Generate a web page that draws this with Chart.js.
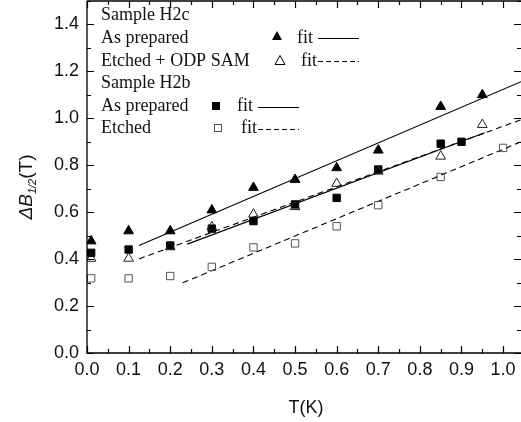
<!DOCTYPE html>
<html>
<head>
<meta charset="utf-8">
<script src="https://cdn.jsdelivr.net/npm/chart.js@4.4.1/dist/chart.umd.min.js"></script>
<style>
  html, body { margin: 0; padding: 0; background: #fff; }
  #wrap { width: 521px; height: 422px; }
</style>
</head>
<body>
<div id="wrap"><canvas id="chart" width="521" height="422"></canvas></div>
<script>
// measured points, T in K, dB1/2 in T
const tH2c = [0.01, 0.1, 0.2, 0.3, 0.4, 0.5, 0.6, 0.7, 0.85, 0.95];
const h2cPrepared = [0.477, 0.52, 0.52, 0.609, 0.705, 0.739, 0.789, 0.864, 1.05, 1.10];
const h2cEtchedOdp = [0.403, 0.403, 0.452, 0.537, 0.591, 0.623, 0.722, 0.774, 0.838, 0.973];
const tH2bPrepared = [0.01, 0.1, 0.2, 0.3, 0.4, 0.5, 0.6, 0.7, 0.85, 0.9];
const h2bPrepared = [0.427, 0.441, 0.458, 0.53, 0.562, 0.633, 0.661, 0.782, 0.892, 0.90];
const tH2bEtched = [0.01, 0.1, 0.2, 0.3, 0.4, 0.5, 0.6, 0.7, 0.85, 1.0];
const h2bEtched = [0.318, 0.318, 0.328, 0.367, 0.45, 0.467, 0.54, 0.63, 0.75, 0.874];

// fit lines (end points)
const fitH2cPreparedT = [0.125, 1.043];
const fitH2cPreparedB = [0.458, 1.156];
const fitH2cEtchedT = [0.125, 1.043];
const fitH2cEtchedB = [0.401, 0.994];
const fitH2bPreparedT = [0.241, 0.956];
const fitH2bPreparedB = [0.464, 0.939];
const fitH2bEtchedT = [0.23, 1.043];
const fitH2bEtchedB = [0.299, 0.90];

const xTicks = [0, 0.1, 0.2, 0.3, 0.4, 0.5, 0.6, 0.7, 0.8, 0.9, 1.0];
const yTicks = [0, 0.2, 0.4, 0.6, 0.8, 1.0, 1.2, 1.4];

const pts = (xs, ys) => xs.map((x, i) => ({ x: x, y: ys[i] }));
const GRAY = '#555';

// frame + inward ticks on all four sides
const framePlugin = {
  id: 'frame',
  afterDraw(chart) {
    const { ctx, chartArea: a, scales } = chart;
    const xs = scales.x, ys = scales.y;
    ctx.save();
    ctx.strokeStyle = '#000';
    ctx.lineWidth = 1.3;
    ctx.beginPath();
    ctx.moveTo(a.left, a.top); ctx.lineTo(a.right + 2, a.top);
    ctx.moveTo(a.left, a.top); ctx.lineTo(a.left, a.bottom);
    ctx.lineTo(a.right + 2, a.bottom);
    ctx.stroke();
    ctx.lineWidth = 1.2;
    ctx.beginPath();
    for (let i = 0; i <= 20; i++) {
      const v = i * 0.05;
      const px = Math.round(xs.getPixelForValue(v)) + 0.5;
      const len = i % 2 === 0 ? 7 : 4;
      ctx.moveTo(px, a.bottom); ctx.lineTo(px, a.bottom - len);
      ctx.moveTo(px, a.top); ctx.lineTo(px, a.top + len);
    }
    for (let i = 0; i <= 15; i++) {
      const v = i * 0.1;
      const py = Math.round(ys.getPixelForValue(v)) + 0.5;
      const len = i % 2 === 0 ? 7 : 4;
      ctx.moveTo(a.left, py); ctx.lineTo(a.left + len, py);
      ctx.moveTo(a.right, py); ctx.lineTo(a.right - len, py);
    }
    ctx.stroke();

    // axis titles
    ctx.fillStyle = '#111';
    ctx.font = '18px "Liberation Sans", Arial, sans-serif';
    ctx.textAlign = 'center';
    ctx.textBaseline = 'alphabetic';
    ctx.fillText('T(K)', 306, 413);

    ctx.translate(32, 187);
    ctx.rotate(-Math.PI / 2);
    const parts = [
      { t: '\u0394', f: 'italic 19px "Liberation Sans", Arial, sans-serif', dy: 0 },
      { t: 'B', f: 'italic 19px "Liberation Sans", Arial, sans-serif', dy: 0 },
      { t: '1/2', f: 'italic 11px "Liberation Sans", Arial, sans-serif', dy: 4 },
      { t: '(T)', f: '19px "Liberation Sans", Arial, sans-serif', dy: 0 }
    ];
    let total = 0;
    parts.forEach(p => { ctx.font = p.f; p.w = ctx.measureText(p.t).width; total += p.w; });
    let cx = -total / 2;
    ctx.textAlign = 'left';
    parts.forEach(p => { ctx.font = p.f; ctx.fillText(p.t, cx, p.dy); cx += p.w; });
    ctx.restore();
  }
};

// the in-plot legend, drawn as text like the original figure
const legendPlugin = {
  id: 'textLegend',
  afterDraw(chart) {
    const ctx = chart.ctx;
    ctx.save();
    ctx.fillStyle = '#111';
    ctx.font = '18px "Liberation Serif", "Times New Roman", serif';
    ctx.textBaseline = 'alphabetic';
    ctx.textAlign = 'left';
    const rows = ['Sample H2c', 'As prepared', 'Etched + ODP SAM', 'Sample H2b', 'As prepared', 'Etched'];
    const base = [20, 43, 66, 88, 111, 133];
    rows.forEach((r, i) => ctx.fillText(r, 101, base[i]));
    ctx.fillText('fit', 297, 43);
    ctx.fillText('fit', 301, 66);
    ctx.fillText('fit', 237, 111);
    ctx.fillText('fit', 241, 133);

    // markers
    ctx.strokeStyle = '#000';
    ctx.lineWidth = 1;
    ctx.beginPath();
    ctx.moveTo(277, 31); ctx.lineTo(282, 40); ctx.lineTo(272, 40); ctx.closePath();
    ctx.fillStyle = '#000'; ctx.fill();
    ctx.beginPath();
    ctx.moveTo(280, 55.5); ctx.lineTo(285, 64.5); ctx.lineTo(275, 64.5); ctx.closePath();
    ctx.stroke();
    ctx.fillRect(212, 102, 8, 8);
    ctx.strokeStyle = GRAY;
    ctx.strokeRect(214.5, 124.5, 7, 7);

    // fit line samples
    ctx.strokeStyle = '#000';
    ctx.beginPath();
    ctx.moveTo(318, 38.5); ctx.lineTo(359, 38.5);
    ctx.moveTo(258, 107.5); ctx.lineTo(299, 107.5);
    ctx.stroke();
    ctx.setLineDash([5, 3]);
    ctx.beginPath();
    ctx.moveTo(318, 61.5); ctx.lineTo(359, 61.5);
    ctx.moveTo(258, 129.5); ctx.lineTo(299, 129.5);
    ctx.stroke();
    ctx.restore();
  }
};

const fitLine = (xs, ys, dashed, color) => ({
  type: 'line',
  data: pts(xs, ys),
  borderColor: color,
  borderWidth: 1.1,
  borderDash: dashed ? [6, 4] : [],
  pointRadius: 0,
  fill: false,
  showLine: true
});

const marker = (xs, ys, style, filled, color) => ({
  type: 'scatter',
  data: pts(xs, ys),
  pointStyle: style,
  pointRadius: style === 'triangle' ? 5.6 : 5.2,
  pointBackgroundColor: filled ? color : 'rgba(0,0,0,0)',
  pointBorderColor: color,
  pointBorderWidth: 1,
  showLine: false
});

// fixed axis boxes, no extra room for end labels
const noPad = s => { s.paddingTop = 0; s.paddingBottom = 0; s.paddingLeft = 0; s.paddingRight = 0; };

new Chart(document.getElementById('chart'), {
  type: 'scatter',
  data: {
    datasets: [
      marker(tH2c, h2cPrepared, 'triangle', true, '#000'),
      marker(tH2c, h2cEtchedOdp, 'triangle', false, '#222'),
      marker(tH2bPrepared, h2bPrepared, 'rect', true, '#000'),
      marker(tH2bEtched, h2bEtched, 'rect', false, GRAY),
      fitLine(fitH2cPreparedT, fitH2cPreparedB, false, '#000'),
      fitLine(fitH2cEtchedT, fitH2cEtchedB, true, '#000'),
      fitLine(fitH2bPreparedT, fitH2bPreparedB, false, '#000'),
      fitLine(fitH2bEtchedT, fitH2bEtchedB, true, '#000')
    ]
  },
  options: {
    responsive: false,
    animation: false,
    events: [],
    layout: { autoPadding: false, padding: { top: 1, right: 0, left: 0, bottom: 0 } },
    plugins: { legend: { display: false }, tooltip: { enabled: false } },
    scales: {
      x: {
        type: 'linear',
        min: 0,
        max: 1.043,
        afterFit: s => { s.height = 69; noPad(s); },
        afterBuildTicks: s => { s.ticks = xTicks.map(v => ({ value: v })); },
        grid: { display: false, drawTicks: false },
        border: { display: false },
        ticks: {
          padding: 6,
          color: '#111',
          font: { family: '"Liberation Sans", Arial, sans-serif', size: 18 },
          callback: v => v.toFixed(1),
          maxRotation: 0,
          autoSkip: false
        }
      },
      y: {
        type: 'linear',
        min: 0,
        max: 1.5,
        afterFit: s => { s.width = 87; noPad(s); },
        afterBuildTicks: s => { s.ticks = yTicks.map(v => ({ value: v })); },
        grid: { display: false, drawTicks: false },
        border: { display: false },
        ticks: {
          padding: 8,
          color: '#111',
          font: { family: '"Liberation Sans", Arial, sans-serif', size: 18 },
          callback: v => v.toFixed(1),
          autoSkip: false
        }
      }
    }
  },
  plugins: [framePlugin, legendPlugin]
});
</script>
</body>
</html>
